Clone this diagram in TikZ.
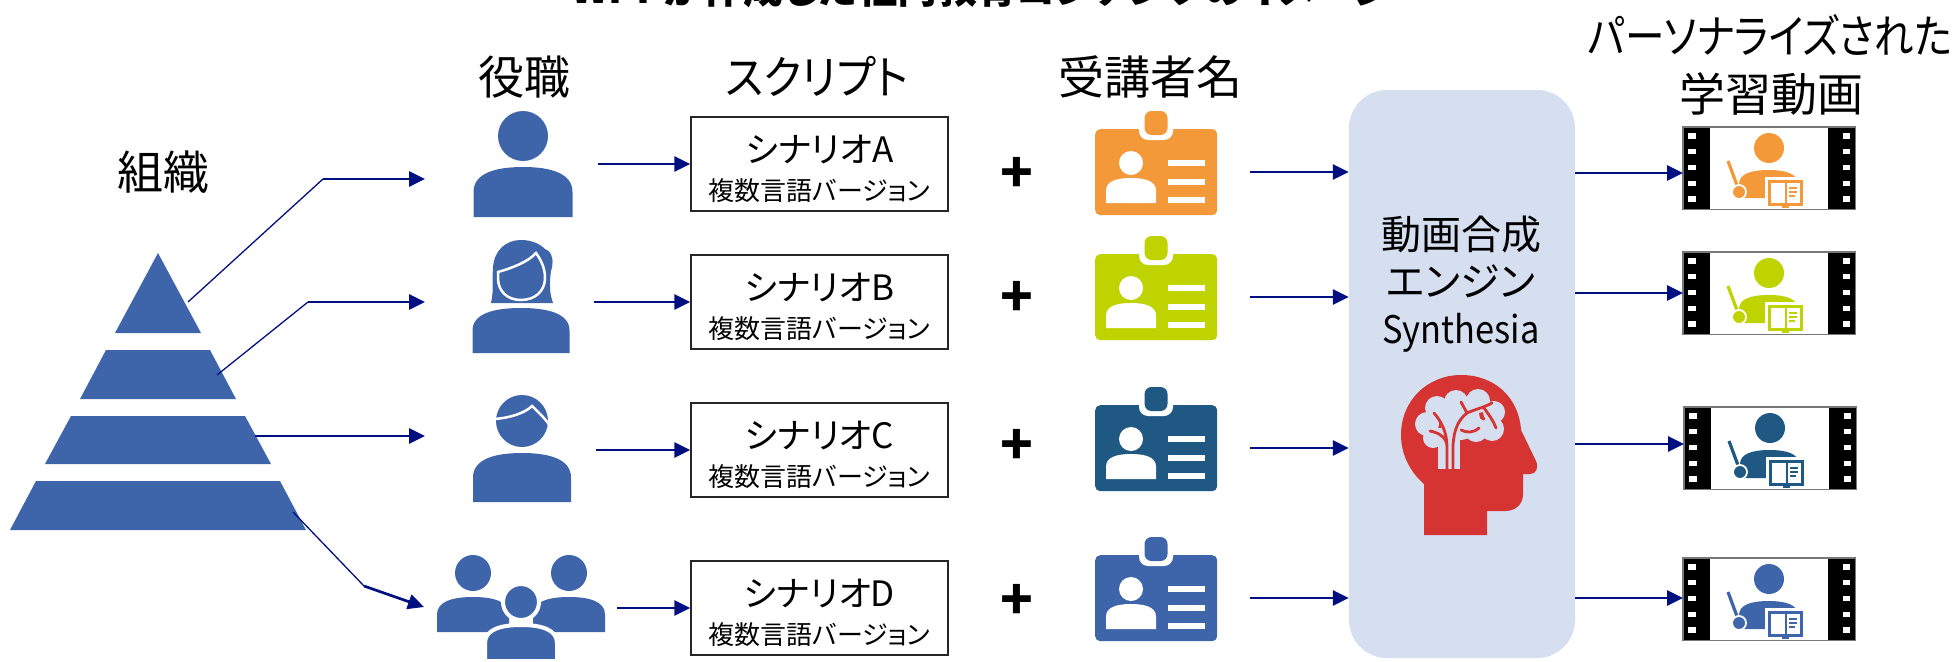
\documentclass[tikz,border=0pt]{standalone}
\usepackage{fontspec}
\setmainfont{Noto Sans CJK JP}[RawFeature=+palt]
\usetikzlibrary{arrows.meta}

\definecolor{navyln}{RGB}{0,16,128}
\definecolor{iconblue}{RGB}{62,101,170}
\definecolor{cardorange}{RGB}{244,153,58}
\definecolor{cardlime}{RGB}{190,211,0}
\definecolor{cardteal}{RGB}{31,88,130}
\definecolor{enginefill}{RGB}{214,223,239}
\definecolor{brainred}{RGB}{214,51,51}
\definecolor{framegray}{RGB}{120,120,120}

\tikzset{
  conn/.style={draw=navyln, line width=1.3pt},
  connarrow/.style={draw=navyln, line width=2.7pt, -{Triangle[length=16pt,width=15pt]}},
  heading/.style={font=\fontsize{46}{50}\selectfont, inner sep=0pt},
  titletext/.style={font=\bfseries\fontsize{40}{44}\selectfont, inner sep=0pt},
  scenebox/.style={draw=black!85, line width=1.3pt, fill=white, minimum width=257pt,
    minimum height=94pt, inner sep=0pt, align=center, font=\fontsize{26}{38}\selectfont},
  plussign/.style={font=\bfseries\fontsize{54}{54}\selectfont, inner sep=0pt},
  cardbody/.style={rounded corners=5pt, minimum width=122pt, minimum height=86pt, inner sep=0pt},
  filmbox/.style={minimum width=172pt, minimum height=82pt, inner sep=0pt},
  engine/.style={fill=enginefill, rounded corners=38pt, minimum width=226pt,
    minimum height=568pt, inner sep=0pt},
  enginetext/.style={font=\fontsize{40}{47}\selectfont, align=center, inner sep=0pt},
}

% first line of a script box, with a strut that lowers the pair of lines a little
\newcommand\scenetitle[1]{\rule{0pt}{38pt}{\fontsize{35}{38}\selectfont #1}}

% torso: centre x, top y, half width, height, path options
\newcommand\torso[5]{%
  \path[#5] ({#1-#3},{#2+#4}) -- ({#1-#3},{#2+0.5*#4})
    .. controls ({#1-#3},{#2+0.12*#4}) and ({#1-0.55*#3},{#2}) .. ({#1},{#2})
    .. controls ({#1+0.55*#3},{#2}) and ({#1+#3},{#2+0.12*#4}) .. ({#1+#3},{#2+0.5*#4})
    -- ({#1+#3},{#2+#4}) -- cycle;}

% ID badge: name, left x, top y, colour
\newcommand\idcard[4]{%
  \node[cardbody, fill=#4, anchor=north west] (#1) at ({#2},{#3}) {};
  \fill[white, rounded corners=9pt] ({#2+44},{#3-23}) rectangle ({#2+78},{#3+11});
  \fill[#4, rounded corners=7pt] ({#2+49.5},{#3-18}) rectangle ({#2+72.5},{#3+6});
  \fill[white] ({#2+36},{#3+34}) circle[radius=12pt];
  \torso{#2+36}{#3+49}{25}{25}{fill=white}
  \fill[white] ({#2+73},{#3+31}) rectangle ({#2+110},{#3+37});
  \fill[white] ({#2+73},{#3+50}) rectangle ({#2+110},{#3+56});
  \fill[white] ({#2+73},{#3+68}) rectangle ({#2+110},{#3+74});
}

% film frame with a teacher: name, left x, top y, colour
\newcommand\filmframe[4]{%
  \node[filmbox, fill=white, anchor=north west] (#1) at ({#2},{#3}) {};
  \fill[black] ({#2},{#3}) rectangle ({#2+27},{#3+82});
  \fill[black] ({#2+145},{#3}) rectangle ({#2+172},{#3+82});
  \foreach \hy in {9,24.75,40.5,56.25,72} {
    \fill[white] ({#2+5},{#3+\hy-2.7}) rectangle ({#2+12.5},{#3+\hy+2.7});
    \fill[white] ({#2+159.5},{#3+\hy-2.7}) rectangle ({#2+167},{#3+\hy+2.7});
  }
  \draw[framegray, line width=1.2pt] (#1.north west) rectangle (#1.south east);
  \fill[#4] ({#2+86},{#3+21}) circle[radius=15pt];
  \torso{#2+85.5}{#3+43}{29.5}{28}{fill=#4}
  \draw[#4, line width=3.2pt] ({#2+45},{#3+34}) -- ({#2+55},{#3+61});
  \filldraw[fill=#4, draw=white, line width=1.8pt] ({#2+56},{#3+65}) circle[radius=7pt];
  \fill[white] ({#2+82},{#3+50}) rectangle ({#2+123},{#3+82});
  \draw[#4, line width=2.6pt] ({#2+86.3},{#3+54.3}) rectangle ({#2+118.7},{#3+77.2});
  \draw[#4, line width=2pt] ({#2+102.5},{#3+54.3}) -- ({#2+102.5},{#3+77.2});
  \fill[#4] ({#2+99},{#3+77}) rectangle ({#2+106},{#3+80.5});
  \draw[#4, line width=1.4pt] ({#2+106},{#3+61}) -- ({#2+114},{#3+61})
    ({#2+106},{#3+65}) -- ({#2+114},{#3+65}) ({#2+106},{#3+69}) -- ({#2+112},{#3+69});
}

\begin{document}
\begin{tikzpicture}[x=1pt,y=-1pt]
\useasboundingbox (0,0) rectangle (1956,661);

% title, running off the top edge
\node[titletext, anchor=base] (title) at (982,4) {WPPが作成した社内教育コンテンツのイメージ};

% column headings
\node[heading] (hOrg) at (163,172) {組織};
\node[heading] (hRole) at (524,77) {役職};
\node[heading] (hScript) at (817,76) {\scalebox{0.92}[1]{スクリプト}};
\node[heading] (hName) at (1150,77) {受講者名};
\node[heading] (hVid1) at (1770,35) {\scalebox{0.86}[1]{パーソナライズされた}};
\node[heading] (hVid2) at (1771,94) {学習動画};

% organisation pyramid
\fill[iconblue] (158,253) -- (201,333) -- (115,333) -- cycle;
\fill[iconblue] (106,350) -- (210,350) -- (236,399) -- (80,399) -- cycle;
\fill[iconblue] (71,416) -- (245,416) -- (271,464) -- (45,464) -- cycle;
\fill[iconblue] (36,481) -- (280,481) -- (306,530) -- (10,530) -- cycle;

\coordinate (lv1) at (188,302);
\coordinate (lv2) at (217,375);
\coordinate (lv3) at (255,436);
\coordinate (lv4) at (293,512);
\coordinate (k1) at (323,179);
\coordinate (k2) at (308,302);
\coordinate (k4) at (364,586);
\coordinate (r1) at (425,179);
\coordinate (r2) at (425,302);
\coordinate (r3) at (425,436);
\coordinate (r4) at (424,607);

\draw[conn] (lv1) -- (k1);
\draw[connarrow] (k1) -- (r1);
\draw[conn] (lv2) -- (k2);
\draw[connarrow] (k2) -- (r2);
\draw[connarrow] (lv3) -- (r3);
\draw[conn] (lv4) -- (k4);
\draw[connarrow] (k4) -- (r4);

% role A: person
\fill[iconblue] (523,136) circle[radius=25pt];
\torso{523}{167}{49.5}{50}{fill=iconblue}

% role B: woman
\fill[iconblue] (491,303) .. controls (494,290) and (492,280) .. (493,268)
  .. controls (494,250) and (506,240) .. (521,240)
  .. controls (532,240) and (540,244) .. (545,249)
  .. controls (553,252) and (554,262) .. (551,271)
  .. controls (549,285) and (550,295) .. (553,303) -- cycle;
\filldraw[fill=iconblue, draw=white, line width=2.5pt] (498,272)
  .. controls (512,268) and (528,262) .. (536,253)
  .. controls (541,260) and (545,268) .. (545,278)
  .. controls (545,291) and (535,300) .. (521,300)
  .. controls (507,300) and (498,291) .. (498,278) -- cycle;
\torso{521}{308}{48.5}{45}{fill=iconblue}

% role C: man
\fill[iconblue] (522,421) circle[radius=26pt];
\draw[white, line width=2.5pt] (494,419) .. controls (510,418) and (525,413) .. (532,406)
  .. controls (538,412) and (545,418) .. (550,426);
\torso{522}{453}{49}{49}{fill=iconblue}

% role D: group
\fill[iconblue] (473,573) circle[radius=18pt];
\fill[iconblue] (569,573) circle[radius=18pt];
\torso{473}{597}{36}{35}{fill=iconblue}
\torso{569}{597}{36}{35}{fill=iconblue}
\filldraw[fill=iconblue, draw=white, line width=4pt] (521,602) circle[radius=18pt];
\torso{521}{625}{36}{36}{fill=iconblue, draw=white, line width=4pt}

% scripts
\node[scenebox] (bA) at (819.5,164) {\scenetitle{シナリオA}\\複数言語バージョン};
\node[scenebox] (bB) at (819.5,302) {\scenetitle{シナリオB}\\複数言語バージョン};
\node[scenebox] (bC) at (819.5,450) {\scenetitle{シナリオC}\\複数言語バージョン};
\node[scenebox] (bD) at (819.5,608) {\scenetitle{シナリオD}\\複数言語バージョン};

\coordinate (pA) at (598,164);
\coordinate (pB) at (594,302);
\coordinate (pC) at (596,450);
\coordinate (pD) at (617,608);
\draw[connarrow] (pA) -- (bA.west);
\draw[connarrow] (pB) -- (bB.west);
\draw[connarrow] (pC) -- (bC.west);
\draw[connarrow] (pD) -- (bD.west);

% plus signs
\node[plussign] (plA) at (1017,175) {+};
\node[plussign] (plB) at (1017,299) {+};
\node[plussign] (plC) at (1017,447) {+};
\node[plussign] (plD) at (1017,602) {+};

% learner badges
\idcard{cA}{1095}{129}{cardorange}
\idcard{cB}{1095}{254}{cardlime}
\idcard{cC}{1095}{405}{cardteal}
\idcard{cD}{1095}{555}{iconblue}

% synthesis engine
\node[engine] (eng) at (1462,374) {};
\node[enginetext] (engtxt) at (1461,284) {動画合成\\エンジン\\\scalebox{0.86}[0.95]{Synthesia}};

% head with brain
\fill[brainred] (1487,535) -- (1424,535) -- (1424,484)
  .. controls (1408,470) and (1401,452) .. (1401,435)
  .. controls (1401,400) and (1428,375) .. (1461,375)
  .. controls (1495,375) and (1519,398) .. (1521,430)
  -- (1536,461) .. controls (1539,468) and (1536,474) .. (1530,474)
  -- (1523,474) -- (1523,494) .. controls (1523,505) and (1515,511) .. (1505,511)
  -- (1487,511) -- cycle;
\fill[enginefill] (1427,424) circle[radius=12pt] (1437,408) circle[radius=12pt]
  (1456,402) circle[radius=12pt] (1478,401) circle[radius=12pt]
  (1494,412) circle[radius=11pt] (1492,429) circle[radius=12pt]
  (1460,420) circle[radius=20pt] (1476,430) circle[radius=12pt]
  (1433,438) circle[radius=10pt];
\fill[enginefill] (1438,428) rectangle (1460,469);
\draw[brainred, line width=2.8pt, line cap=round]
  (1447,469) -- (1447,447) .. controls (1447,438) and (1440,433) .. (1430,431)
  (1447,447) .. controls (1447,432) and (1441,421) .. (1434,413)
  (1453,469) -- (1453,445) .. controls (1454,430) and (1458,420) .. (1467,413)
  (1467,413) .. controls (1476,409) and (1485,407) .. (1492,403)
  (1467,413) -- (1461,402)
  (1484,408) .. controls (1489,415) and (1493,420) .. (1496,428)
  (1461,430) .. controls (1467,433) and (1473,433) .. (1479,428);

\coordinate (iA) at (1250,172);
\coordinate (iB) at (1250,297);
\coordinate (iC) at (1250,448);
\coordinate (iD) at (1250,598);
\draw[connarrow] (iA) -- (iA -| eng.west);
\draw[connarrow] (iB) -- (iB -| eng.west);
\draw[connarrow] (iC) -- (iC -| eng.west);
\draw[connarrow] (iD) -- (iD -| eng.west);

% personalised videos
\filmframe{fA}{1683}{127}{cardorange}
\filmframe{fB}{1683}{252}{cardlime}
\filmframe{fC}{1684}{407}{cardteal}
\filmframe{fD}{1683}{558}{iconblue}

\coordinate (oA) at (1575,173);
\coordinate (oB) at (1575,293);
\coordinate (oC) at (1575,444);
\coordinate (oD) at (1575,598);
\draw[connarrow] (oA) -- (oA -| fA.west);
\draw[connarrow] (oB) -- (oB -| fB.west);
\draw[connarrow] (oC) -- (oC -| fC.west);
\draw[connarrow] (oD) -- (oD -| fD.west);
\end{tikzpicture}
\end{document}
